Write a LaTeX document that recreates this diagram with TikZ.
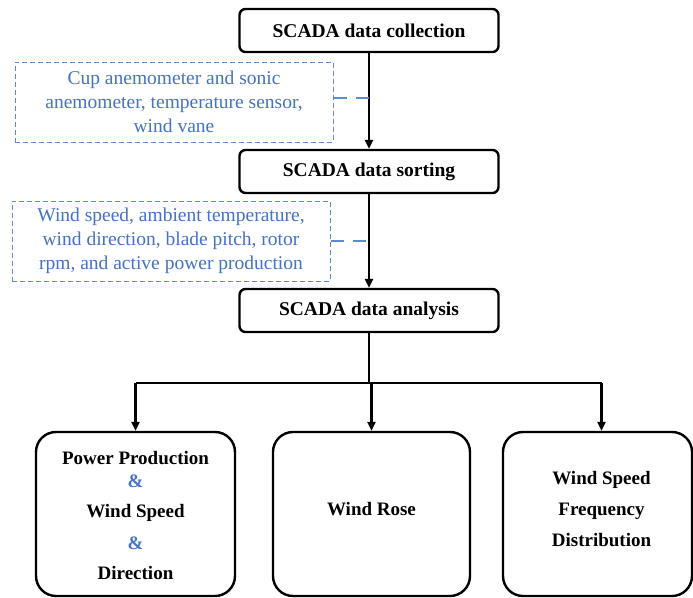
\documentclass[tikz,border=0pt]{standalone}
\usepackage{fontspec}
\setmainfont{Liberation Serif}
\usetikzlibrary{arrows.meta,calc}
\definecolor{noteblue}{RGB}{68,114,196}
\definecolor{dashblue}{RGB}{91,140,210}
\begin{document}
\begin{tikzpicture}[x=1pt,y=-1pt,
  stage/.style={draw, line width=2.4pt, rounded corners=6pt, minimum width=259pt, minimum height=43pt,
    font=\fontsize{19.5}{22}\selectfont\bfseries, inner sep=0pt},
  note/.style={draw=dashblue, line width=1pt, dash pattern=on 5pt off 3pt, minimum width=318pt, minimum height=80pt,
    text=noteblue, align=center, font=\fontsize{19.5}{24}\selectfont, inner sep=0pt},
  result/.style={draw, line width=2.4pt, rounded corners=20pt, minimum height=164pt, inner sep=0pt},
  resulttext/.style={font=\fontsize{19}{20}\selectfont\bfseries, align=center, inner sep=0pt},
  flow/.style={line width=2.2pt, -{Triangle[length=9pt,width=8pt]}},
  link/.style={draw=dashblue, line width=1.8pt, dash pattern=on 13pt off 9pt}
]
\useasboundingbox (0,0) rectangle (693,597);

% processing chain
\node[stage] (collect) at (369,30.5) {SCADA data collection};
\node[stage] (sort) at (369,171.5) {SCADA data sorting};
\node[stage] (analyse) at (369,310.5) {SCADA data analysis};

% annotations
\node[note] (sensors) at (174,102) {Cup anemometer and sonic\\anemometer, temperature sensor,\\wind vane};
\node[note] (params) at (171,241) {Wind speed, ambient temperature,\\wind direction, blade pitch, rotor\\rpm, and active power production};

% outputs
\node[result, minimum width=199pt] (power) at (135.5,514) {};
\node[result, minimum width=197pt] (rose) at (371.5,514) {};
\node[result, minimum width=189pt] (freq) at (597.5,514) {};

\node[resulttext] (powerlbl) at ($(power.center)+(0,1.5)$)
  {Power Production\\[3pt]{\color{noteblue}\&}\\[10pt]Wind Speed\\[12pt]{\color{noteblue}\&}\\[10pt]Direction};
\node[resulttext] (roselbl) at ($(rose.center)+(0,-5)$) {Wind Rose};
\node[resulttext] (freqlbl) at ($(freq.center)+(4,-5)$) {Wind Speed\\[11pt]Frequency\\[11pt]Distribution};

% connectors
\draw[flow] (collect.south) -- (sort.north);
\draw[flow] (sort.south) -- (analyse.north);

\draw[link] ([yshift=4pt]sensors.east) -- ([yshift=4pt]sensors.east -| collect.south);
\draw[link] (params.east) -- (params.east -| sort.south);

\coordinate (bus) at ($(analyse.south)+(0,50)$);
\draw[line width=2.2pt] (analyse.south) -- (bus);
\draw[line width=2.2pt] (power.north |- bus) -- ([xshift=4pt]freq.north |- bus);
\draw[flow] (power.north |- bus) -- (power.north);
\draw[flow] (bus -| rose.north) -- (rose.north);
\draw[flow] ([xshift=4pt]freq.north |- bus) -- ([xshift=4pt]freq.north);
\end{tikzpicture}
\end{document}
